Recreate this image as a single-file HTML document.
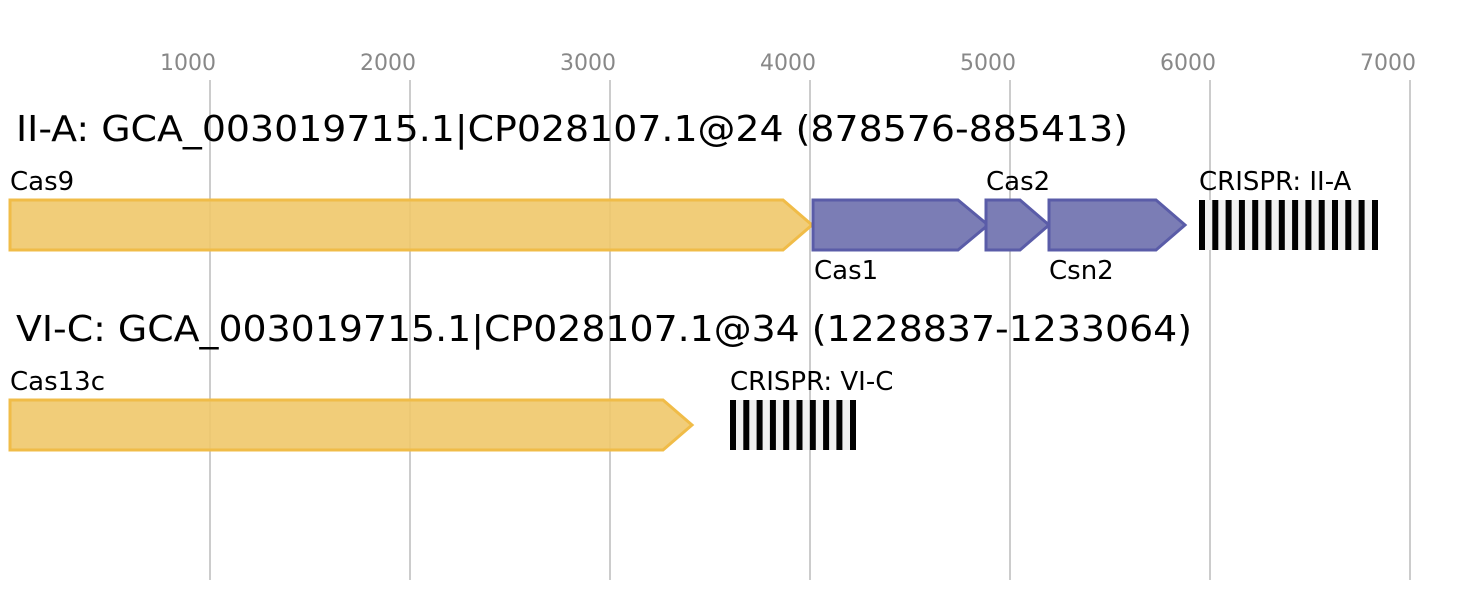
<!DOCTYPE html>
<html><head><style>body{margin:0;background:#fff}</style></head><body>
<svg width="1467" height="600" xmlns="http://www.w3.org/2000/svg" font-family="'DejaVu Sans', 'Liberation Sans', sans-serif">
<g stroke="#bbb" stroke-width="1.5">
<line x1="210" y1="80" x2="210" y2="580"/><line x1="410" y1="80" x2="410" y2="580"/><line x1="610" y1="80" x2="610" y2="580"/><line x1="810" y1="80" x2="810" y2="580"/><line x1="1010" y1="80" x2="1010" y2="580"/><line x1="1210" y1="80" x2="1210" y2="580"/><line x1="1410" y1="80" x2="1410" y2="580"/>
</g>
<g fill="#888" font-size="22" text-anchor="middle">
<text x="188" y="70">1000</text><text x="388" y="70">2000</text><text x="588" y="70">3000</text><text x="788" y="70">4000</text><text x="988" y="70">5000</text><text x="1188" y="70">6000</text><text x="1388" y="70">7000</text>
</g>
<text x="16" y="141" font-size="36" textLength="1112" lengthAdjust="spacingAndGlyphs">II-A: GCA_003019715.1|CP028107.1@24 (878576-885413)</text>
<text x="16" y="341" font-size="36" textLength="1176" lengthAdjust="spacingAndGlyphs">VI-C: GCA_003019715.1|CP028107.1@34 (1228837-1233064)</text>
<g stroke-width="3" stroke-linejoin="miter">
<polygon points="10,200 783,200 812,225 783,250 10,250" fill="#f0c86a" fill-opacity="0.9" stroke="#f0bc48"/>
<polygon points="10,400 663,400 692,425 663,450 10,450" fill="#f0c86a" fill-opacity="0.9" stroke="#f0bc48"/>
<polygon points="813,200 958,200 988,225 958,250 813,250" fill="#7b7db5" stroke="#5a5ca8"/>
<polygon points="986,200 1020,200 1049,225 1020,250 986,250" fill="#7b7db5" stroke="#5a5ca8"/>
<polygon points="1049,200 1156,200 1185,225 1156,250 1049,250" fill="#7b7db5" stroke="#5a5ca8"/>
</g>
<g font-size="26" fill="#000">
<text x="10" y="190">Cas9</text><text x="986" y="190">Cas2</text><text x="1199" y="190">CRISPR: II-A</text>
<text x="814" y="279">Cas1</text><text x="1049" y="279">Csn2</text>
<text x="10" y="390">Cas13c</text><text x="730" y="390">CRISPR: VI-C</text>
</g>
<rect x="1199" y="200" width="179" height="50" fill="#f0f0f0"/>
<g fill="#000">
<rect x="1199" y="200" width="6" height="50"/><rect x="1212.3" y="200" width="6" height="50"/><rect x="1225.6" y="200" width="6" height="50"/><rect x="1238.9" y="200" width="6" height="50"/><rect x="1252.2" y="200" width="6" height="50"/><rect x="1265.5" y="200" width="6" height="50"/><rect x="1278.8" y="200" width="6" height="50"/><rect x="1292.1" y="200" width="6" height="50"/><rect x="1305.4" y="200" width="6" height="50"/><rect x="1318.7" y="200" width="6" height="50"/><rect x="1332" y="200" width="6" height="50"/><rect x="1345.3" y="200" width="6" height="50"/><rect x="1358.6" y="200" width="6" height="50"/><rect x="1372" y="200" width="6" height="50"/>
</g>
<rect x="730" y="400" width="126" height="50" fill="#f0f0f0"/>
<g fill="#000">
<rect x="730" y="400" width="6" height="50"/><rect x="743.3" y="400" width="6" height="50"/><rect x="756.6" y="400" width="6" height="50"/><rect x="769.9" y="400" width="6" height="50"/><rect x="783.2" y="400" width="6" height="50"/><rect x="796.5" y="400" width="6" height="50"/><rect x="809.8" y="400" width="6" height="50"/><rect x="823.1" y="400" width="6" height="50"/><rect x="836.4" y="400" width="6" height="50"/><rect x="850" y="400" width="6" height="50"/>
</g>
</svg>
</body></html>
